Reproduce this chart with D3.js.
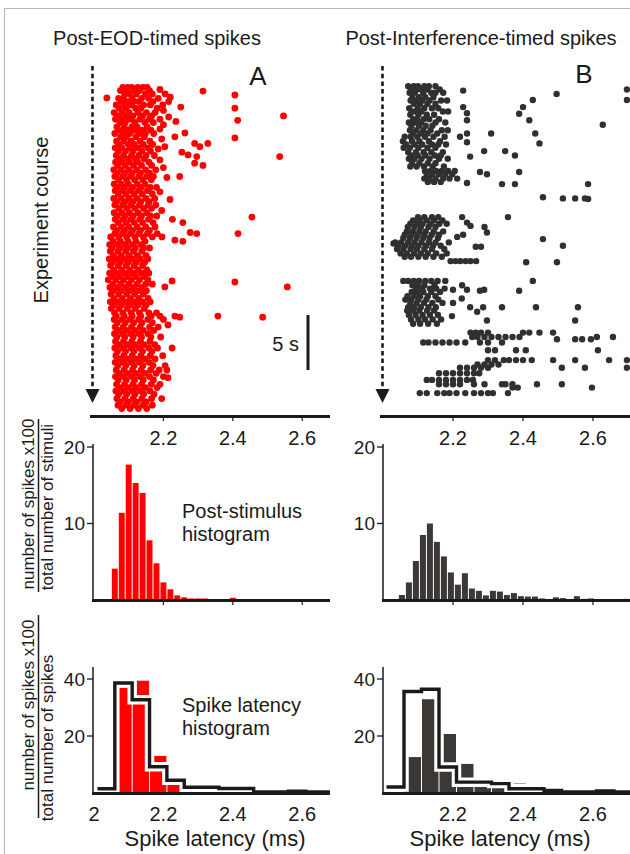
<!DOCTYPE html>
<html><head><meta charset="utf-8">
<script src="https://cdn.jsdelivr.net/npm/d3@7"></script>
<style>body{margin:0;background:#fff}svg{display:block;font-family:"Liberation Sans",Arial,Helvetica,sans-serif}</style>
</head><body><svg id="c" width="630" height="854"></svg>
<script>
// ---------------- DATA ----------------
const panelTitles = ["Post-EOD-timed spikes", "Post-Interference-timed spikes"];
const panelLetters = ["A", "B"];
const rasterTicks = [2.2, 2.4, 2.6];
const latTickLabelsA = [2, 2.2, 2.4, 2.6];
const latTickLabelsB = [2.2, 2.4, 2.6];
const psthYTicks = [10, 20];
const latYTicks = [20, 40];

// Raster rows: [experiment time (s), [spike latencies (ms)]]
const rasterA = [
[0.3,[2.083,2.097,2.109,2.126,2.141,2.153]],
[0.6,[2.076,2.094,2.117,2.131,2.160]],
[0.9,[2.088,2.102,2.122,2.148,2.168]],
[1.3,[2.071,2.085,2.110,2.137,2.157,2.185]],
[1.6,[2.079,2.098,2.114,2.129,2.170]],
[1.9,[2.064,2.089,2.106,2.143,2.162,2.198]],
[2.2,[2.073,2.092,2.120,2.135,2.182]],
[2.6,[2.058,2.081,2.101,2.127,2.151,2.176]],
[2.9,[2.069,2.095,2.112,2.140,2.166]],
[3.2,[2.062,2.084,2.104,2.132,2.159,2.190]],
[3.5,[2.075,2.090,2.118,2.147,2.171]],
[3.9,[2.066,2.087,2.109,2.124,2.153]],
[4.2,[2.071,2.096,2.115,2.139,2.164]],
[4.5,[2.060,2.082,2.103,2.130,2.148,2.172]],
[4.8,[2.077,2.093,2.121,2.145]],
[5.2,[2.065,2.086,2.107,2.133,2.161]],
[5.5,[2.072,2.099,2.116,2.142,2.169]],
[5.8,[2.061,2.080,2.104,2.127,2.155]],
[6.1,[2.070,2.091,2.112,2.138,2.163]],
[6.5,[2.064,2.085,2.108,2.129,2.150,2.174]],
[6.8,[2.073,2.097,2.119,2.144]],
[7.1,[2.062,2.081,2.102,2.126,2.158]],
[7.4,[2.068,2.090,2.114,2.137,2.166]],
[7.8,[2.057,2.078,2.100,2.123,2.149,2.178]],
[8.1,[2.066,2.088,2.110,2.134,2.160]],
[8.4,[2.060,2.083,2.105,2.129,2.152,2.171]],
[8.7,[2.071,2.094,2.117,2.141,2.165]],
[9.1,[2.058,2.079,2.099,2.125,2.147]],
[9.4,[2.066,2.087,2.111,2.136,2.162,2.180]],
[9.7,[2.061,2.082,2.104,2.128,2.154]],
[10.0,[2.070,2.092,2.115,2.139,2.168]],
[10.4,[2.057,2.078,2.101,2.124,2.150,2.175]],
[10.7,[2.065,2.089,2.112,2.135,2.159]],
[11.0,[2.060,2.083,2.106,2.131,2.156,2.178]],
[11.3,[2.072,2.095,2.118,2.143,2.166]],
[11.7,[2.058,2.080,2.102,2.127,2.152]],
[12.0,[2.067,2.090,2.113,2.137,2.163,2.181]],
[12.3,[2.061,2.084,2.107,2.132,2.157]],
[12.6,[2.070,2.093,2.116,2.140,2.170]],
[13.0,[2.056,2.079,2.100,2.124,2.149,2.176]],
[13.3,[2.065,2.088,2.111,2.134,2.160]],
[13.6,[2.060,2.082,2.105,2.129,2.154,2.182]],
[13.9,[2.048,2.071,2.094,2.118,2.142,2.168,2.196]],
[14.3,[2.055,2.076,2.098,2.121,2.147]],
[14.6,[2.045,2.067,2.089,2.112,2.136]],
[14.9,[2.052,2.074,2.097,2.119,2.143,2.160]],
[15.2,[2.047,2.069,2.091,2.114,2.138]],
[15.6,[2.056,2.078,2.101,2.125,2.150]],
[15.9,[2.044,2.066,2.088,2.110,2.133,2.155]],
[16.2,[2.053,2.075,2.098,2.122,2.146]],
[16.5,[2.048,2.070,2.093,2.116,2.140]],
[16.9,[2.057,2.080,2.103,2.127,2.152]],
[17.2,[2.045,2.067,2.090,2.113,2.137,2.158]],
[17.5,[2.052,2.074,2.097,2.120,2.145]],
[17.8,[2.041,2.063,2.085,2.108,2.131,2.155]],
[18.2,[2.054,2.077,2.100,2.124,2.149,2.168]],
[18.5,[2.046,2.068,2.091,2.114,2.139]],
[18.8,[2.055,2.078,2.102,2.126,2.151]],
[19.1,[2.049,2.071,2.094,2.117,2.142]],
[19.5,[2.058,2.081,2.105,2.129,2.156]],
[19.8,[2.047,2.069,2.092,2.116,2.140,2.162]],
[20.1,[2.056,2.079,2.103,2.127,2.150]],
[20.4,[2.050,2.072,2.096,2.119,2.145]],
[20.8,[2.059,2.083,2.107,2.131,2.158,2.180]],
[21.1,[2.064,2.087,2.110,2.135,2.165,2.190]],
[21.4,[2.058,2.081,2.104,2.129,2.155,2.200]],
[21.7,[2.067,2.090,2.114,2.138,2.168]],
[22.1,[2.061,2.084,2.108,2.133,2.160,2.185]],
[22.4,[2.070,2.093,2.117,2.142,2.172]],
[22.7,[2.059,2.082,2.106,2.130,2.156]],
[23.0,[2.066,2.089,2.113,2.137,2.164,2.192]],
[23.4,[2.062,2.085,2.109,2.134,2.161]],
[23.7,[2.071,2.095,2.119,2.144,2.175]],
[24.0,[2.060,2.083,2.107,2.131,2.158,2.183]],
[24.3,[2.068,2.091,2.115,2.140,2.167]],
[24.7,[2.063,2.086,2.110,2.135,2.162,2.198]],
[25.0,[2.072,2.096,2.120,2.146,2.176]],
[25.3,[2.061,2.084,2.108,2.132,2.159]],
[25.6,[2.069,2.092,2.116,2.141,2.170,2.205]],
[26.0,[2.064,2.087,2.111,2.136,2.163,2.188]],
[26.3,[2.073,2.097,2.121,2.147,2.179]],
[26.6,[2.062,2.085,2.109,2.133,2.160,2.200]],
[26.9,[2.070,2.093,2.117,2.142,2.171]],
[27.3,[2.065,2.088,2.112,2.137,2.165,2.190]],
[27.6,[2.074,2.098,2.122,2.148,2.182]],
[27.9,[2.063,2.086,2.110,2.134,2.161]],
[28.2,[2.071,2.094,2.118,2.143,2.173]],
[28.6,[2.066,2.089,2.113,2.138,2.166,2.195]],
[28.9,[2.075,2.099,2.123,2.150]],
[29.2,[2.069,2.092,2.116,2.141,2.168]],
[29.5,[2.080,2.104,2.128,2.152]]
];
// isolated spikes in A: [time (s), latency (ms)]
const rasterAScatter = [
[0.64,2.314],[1.27,2.037],[1.0,2.406],[1.2,2.22],[0.5,2.19],[0.9,2.205],[2.1,2.25],[1.6,2.215],[2.2,2.406],
[2.9,2.546],[3.3,2.414],[3.4,2.236],[2.4,2.2],[3.0,2.215],[3.7,2.2],[4.45,2.262],[4.8,2.233],[4.1,2.19],
[4.9,2.406],[5.7,2.204],[5.4,2.29],[5.7,2.305],[5.4,2.328],[6.2,2.253],[6.45,2.271],[6.6,2.296],
[6.6,2.535],[7.2,2.29],[7.4,2.314],[8.4,2.247],[8.5,2.21],[5.0,2.195],[5.9,2.185],[6.9,2.19],[7.6,2.2],
[9.8,2.19],[10.5,2.219],[11.5,2.195],[12.1,2.455],[12.3,2.226],[12.6,2.256],[13.5,2.277],[13.6,2.296],
[13.6,2.415],[14.2,2.233],[14.3,2.256],[17.9,2.225],[18.0,2.406],[18.45,2.204],[18.45,2.557],
[21.1,2.233],[21.2,2.247],[21.1,2.357],[21.2,2.486],[21.9,2.213],[24.0,2.225],[26.0,2.21],[26.7,2.213]
];

const rasterB = [
[0.2,[2.072,2.088,2.100,2.118,2.131,2.150]],
[0.5,[2.080,2.097,2.109,2.126,2.162]],
[0.8,[2.076,2.091,2.115,2.138,2.150,2.172]],
[1.2,[2.084,2.103,2.121,2.144]],
[1.5,[2.079,2.094,2.112,2.133,2.166,2.183]],
[1.8,[2.088,2.106,2.127,2.150]],
[2.2,[2.075,2.099,2.118,2.140,2.158]],
[2.5,[2.082,2.093,2.110,2.171,2.186]],
[2.8,[2.078,2.101,2.125,2.146]],
[3.2,[2.086,2.097,2.116,2.132,2.160]],
[3.5,[2.074,2.092,2.108,2.150,2.178]],
[3.8,[2.081,2.103,2.122,2.141]],
[4.2,[2.077,2.095,2.115,2.136,2.168,2.185]],
[4.5,[2.085,2.108,2.127,2.155]],
[4.8,[2.062,2.079,2.098,2.120,2.144,2.176]],
[5.2,[2.057,2.083,2.104,2.131,2.163]],
[5.5,[2.066,2.090,2.112,2.140,2.158,2.180]],
[5.8,[2.059,2.077,2.101,2.127,2.150]],
[6.2,[2.072,2.094,2.116,2.138,2.171]],
[6.5,[2.080,2.099,2.121,2.148,2.165]],
[6.8,[2.074,2.090,2.110,2.133,2.160,2.185]],
[7.2,[2.083,2.104,2.128,2.150]],
[7.5,[2.078,2.096,2.117,2.142,2.174]],
[7.9,[2.120,2.135,2.152,2.168,2.186,2.205]],
[8.2,[2.125,2.141,2.160,2.178,2.198]],
[8.6,[2.118,2.132,2.150,2.172,2.190,2.212]],
[8.9,[2.128,2.146,2.165]],
[12.1,[2.100,2.118,2.140,2.158]],
[12.4,[2.086,2.104,2.125,2.146,2.170]],
[12.7,[2.078,2.097,2.113,2.136,2.161,2.182]],
[13.0,[2.071,2.090,2.108,2.130,2.150]],
[13.4,[2.068,2.085,2.104,2.122,2.145,2.172]],
[13.7,[2.062,2.081,2.099,2.118,2.139,2.160]],
[14.0,[2.058,2.077,2.096,2.115,2.133,2.157]],
[14.4,[2.035,2.052,2.072,2.090,2.110,2.131,2.150,2.188]],
[14.7,[2.044,2.063,2.082,2.101,2.123,2.143,2.165]],
[15.0,[2.040,2.058,2.079,2.097,2.118,2.140,2.175]],
[15.4,[2.050,2.068,2.089,2.108,2.128,2.152,2.182]],
[15.7,[2.062,2.080,2.101,2.122,2.144,2.168]],
[16.1,[2.193,2.207,2.221,2.236,2.250,2.266]],
[17.9,[2.058,2.072,2.088,2.103,2.121,2.138,2.156,2.178]],
[18.3,[2.084,2.099,2.118,2.147]],
[18.6,[2.095,2.112,2.134,2.152,2.176]],
[18.9,[2.082,2.097,2.115,2.138,2.163]],
[19.3,[2.070,2.088,2.106,2.128,2.150]],
[19.6,[2.064,2.080,2.101,2.124,2.158]],
[19.9,[2.078,2.096,2.117,2.141,2.170]],
[20.3,[2.072,2.089,2.108,2.130,2.151]],
[20.6,[2.069,2.086,2.104,2.126,2.146]],
[21.0,[2.074,2.093,2.113,2.134,2.157]],
[21.4,[2.080,2.101,2.120,2.142,2.166]],
[21.8,[2.086,2.106,2.129,2.154]],
[22.6,[2.250,2.265,2.280,2.300,2.400,2.418,2.447,2.486]],
[23.0,[2.255,2.270,2.290,2.310,2.330,2.350,2.370,2.390,2.611,2.657]],
[23.2,[2.497,2.549,2.569,2.594]],
[23.5,[2.115,2.130,2.150,2.170,2.190,2.210,2.235,2.277,2.300,2.340]],
[24.2,[2.300,2.320,2.380,2.408,2.614]],
[25.1,[2.300,2.320,2.345,2.360,2.380,2.400,2.425,2.486,2.549,2.646,2.697]],
[25.5,[2.270,2.290,2.310,2.330]],
[25.8,[2.220,2.240,2.260,2.280,2.300,2.511,2.577,2.697]],
[26.3,[2.160,2.180,2.200,2.220,2.240,2.260,2.275]],
[26.9,[2.125,2.140,2.160,2.180,2.200,2.220,2.240,2.257]],
[27.3,[2.160,2.180,2.200,2.220,2.260,2.290,2.340,2.350,2.370,2.440,2.511]],
[27.6,[2.370,2.385,2.597]],
[28.1,[2.105,2.125,2.155,2.175,2.190,2.210,2.235,2.260,2.280,2.300,2.314,2.357]]
];
// isolated spikes in B: [time (s), latency (ms)]
const rasterBScatter = [
[0.6,2.229],[0.9,2.496],[0.5,2.697],[1.45,2.697],[1.45,2.428],[2.1,2.229],[2.1,2.40],[2.65,2.24],[2.7,2.389],
[3.3,2.24],[3.3,2.418],[3.7,2.628],[4.8,2.22],[4.5,2.24],[4.5,2.309],[4.5,2.435],[5.3,2.24],[5.4,2.447],
[6.1,2.289],[6.1,2.349],[6.5,2.377],[6.6,2.249],[8.0,2.277],[8.2,2.297],[8.0,2.389],[9.0,2.24],[9.1,2.34],
[9.1,2.377],[9.1,2.586],[10.3,2.457],[10.4,2.514],[10.4,2.549],[10.4,2.577],[10.45,2.586],[12.1,2.357],
[12.1,2.226],[12.6,2.24],[12.9,2.25],[13.0,2.29],[13.5,2.297],[13.9,2.212],[13.7,2.229],[14.1,2.457],
[14.8,2.265],[14.8,2.28],[14.7,2.514],[16.2,2.409],[16.2,2.497],[14.5,2.03],
[17.9,2.428],[18.3,2.226],[18.7,2.2],[18.7,2.24],[18.8,2.277],[18.7,2.289],[18.8,2.389],[19.5,2.225],
[19.9,2.2],[20.3,2.249],[20.3,2.286],[20.3,2.34],[20.3,2.437],[20.3,2.557],[20.7,2.269],[21.1,2.197],
[21.5,2.297],[21.5,2.549]
];

// Post-stimulus histograms (0.02 ms bins): first bin start, values
const psthBinWidth = 0.02;
const psthStartA = 2.05;
const psthA = [4.1,11.4,17.7,15.3,14.0,7.8,4.8,2.3,1.4,0.6,0.35,0.2,0.2,0.2,0,0,0,0.3,0.1,0,0,0,0,0,0,0.1];
const psthStartB = 2.044;
const psthB = [0.65,2.3,5.1,8.5,10.0,7.6,5.7,3.6,2.0,3.5,1.5,1.2,0.6,1.2,1.1,0.65,0.9,0.5,0.45,0.45,0.2,0,0.35,0.25,0,0.5,0.15,0.2,0,0,0.05,0.05,0.15];

// Spike latency histograms (0.05 ms bins)
const latBinWidth = 0.05;
const latBins = [2.01,2.06,2.11,2.16,2.21,2.26,2.31,2.36,2.41,2.46,2.51,2.56,2.61,2.66];
const latStepA = [1.5,38.6,32.7,9.2,4.5,2.0,2.0,1.6,1.6,0.4,0.4,0.6,0.4,0.4];
const latBarsA = [0,37,39.4,13,3.1,0.8,0,0,0,0,0,0,0,0];
const latStepB = [2.1,35.6,36.4,9.1,3.8,3.8,3.3,1.5,1.5,0.9,0.35,0.35,0.7,0.35];
const latBarsB = [0,12.6,32.9,20.7,10.2,5.0,2.5,3.3,1.5,1.5,0.5,0.3,0.3,0.3];

// ---------------- DRAWING ----------------
const svg = d3.select("#c");
const ink = "#1a1a1a";

svg.append("path").attr("d", "M4.5,854 V8.5 H630").attr("fill", "none")
  .attr("stroke", "#b8b8b8").attr("stroke-width", 1.2);

const yR = d3.scaleLinear().domain([0, 30]).range([84, 414]);
const yP = d3.scaleLinear().domain([0, 20]).range([600, 447]);
const yL = d3.scaleLinear().domain([0, 40]).range([793, 679]);

const panels = [
  { x: d3.scaleLinear().domain([2, 2.68]).range([94, 330]), L: 93, R: 330,
    raster: rasterA, scatter: rasterAScatter, dot: "#ff0000", r: 3.4, psthStart: psthStartA, psth: psthA, fill: "#ff0000",
    latStep: latStepA, latBars: latBarsA, latLabels: latTickLabelsA,
    title: panelTitles[0], titleX: 157, letter: panelLetters[0], letterX: 258, letterY: 85, xTitleX: 215 },
  { x: d3.scaleLinear().domain([2, 2.7]).range([383, 628]), L: 383, R: 630,
    raster: rasterB, scatter: rasterBScatter, dot: "#32302f", r: 3.2, psthStart: psthStartB, psth: psthB, fill: "#3b3836",
    latStep: latStepB, latBars: latBarsB, latLabels: latTickLabelsB,
    title: panelTitles[1], titleX: 481, letter: panelLetters[1], letterX: 584, letterY: 83, xTitleX: 500 }
];

panels.forEach((p, pi) => {
  const g = svg.append("g");
  const x = p.x;

  g.append("text").attr("x", p.titleX).attr("y", 45).attr("text-anchor", "middle")
    .attr("font-size", 20).attr("fill", ink).text(p.title);
  g.append("text").attr("x", p.letterX).attr("y", p.letterY).attr("text-anchor", "middle")
    .attr("font-size", 26).attr("fill", ink).text(p.letter);

  const ax = p.L - 0.5;
  g.append("line").attr("x1", ax).attr("x2", ax).attr("y1", 66).attr("y2", 391)
    .attr("stroke", ink).attr("stroke-width", 2.6).attr("stroke-dasharray", "4.5,3.2");
  g.append("path").attr("d", `M${ax - 7},${389} L${ax + 7},${389} L${ax},${403} Z`).attr("fill", ink);

  const dots = [];
  p.raster.forEach(([t, lats]) => lats.forEach(l => dots.push([l, t])));
  p.scatter.forEach(([t, l]) => dots.push([l, t]));
  g.append("g").selectAll("circle").data(dots).join("circle")
    .attr("cx", d => x(d[0])).attr("cy", d => yR(d[1])).attr("r", p.r).attr("fill", p.dot);

  g.append("line").attr("x1", p.L - 3).attr("x2", p.R).attr("y1", 416.5).attr("y2", 416.5)
    .attr("stroke", ink).attr("stroke-width", 3);
  rasterTicks.forEach(v => {
    g.append("line").attr("x1", x(v)).attr("x2", x(v)).attr("y1", 416).attr("y2", 421)
      .attr("stroke", ink).attr("stroke-width", 1.2);
    g.append("text").attr("x", x(v)).attr("y", 445).attr("text-anchor", "middle")
      .attr("font-size", 20).attr("fill", ink).text(v.toFixed(1));
  });

  g.append("g").selectAll("rect").data(p.psth.map((v, i) => [p.psthStart + i * psthBinWidth, v]).filter(d => d[1] > 0))
    .join("rect")
    .attr("x", d => x(d[0]) + 0.5).attr("width", d => x(d[0] + psthBinWidth) - x(d[0]) - 1)
    .attr("y", d => yP(d[1])).attr("height", d => yP(0) - yP(d[1])).attr("fill", p.fill);
  g.append("line").attr("x1", p.L).attr("x2", p.L).attr("y1", 444).attr("y2", 601)
    .attr("stroke", ink).attr("stroke-width", 1.5);
  psthYTicks.forEach(v => {
    g.append("line").attr("x1", p.L - 6).attr("x2", p.L).attr("y1", yP(v)).attr("y2", yP(v))
      .attr("stroke", ink).attr("stroke-width", 1.3);
    g.append("text").attr("x", p.L - 8).attr("y", yP(v)).attr("dy", "0.36em").attr("text-anchor", "end")
      .attr("font-size", 19).attr("fill", ink).text(v);
  });
  g.append("line").attr("x1", p.L - 1).attr("x2", p.R).attr("y1", 600.5).attr("y2", 600.5)
    .attr("stroke", ink).attr("stroke-width", 3);
  rasterTicks.forEach(v => {
    g.append("line").attr("x1", x(v)).attr("x2", x(v)).attr("y1", 600).attr("y2", 605)
      .attr("stroke", ink).attr("stroke-width", 1.2);
  });

  const clipId = "clip" + pi;
  svg.append("clipPath").attr("id", clipId).append("rect")
    .attr("x", p.L).attr("y", 640).attr("width", p.R - p.L).attr("height", 160);
  const lg = g.append("g").attr("clip-path", `url(#${clipId})`);
  lg.selectAll("rect").data(latBins.map((b, i) => [b, p.latBars[i]]).filter(d => d[1] > 0))
    .join("rect")
    .attr("x", d => x(d[0]) + 0.5).attr("width", d => x(d[0] + latBinWidth) - x(d[0]) - 1)
    .attr("y", d => yL(d[1])).attr("height", d => yL(0) - yL(d[1])).attr("fill", p.fill);
  const pts = latBins.map((b, i) => [b, p.latStep[i]]);
  pts.push([latBins[latBins.length - 1] + latBinWidth, p.latStep[p.latStep.length - 1]]);
  const stepLine = d3.line().x(d => x(d[0])).y(d => yL(d[1])).curve(d3.curveStepAfter);
  lg.append("path").attr("d", stepLine(pts)).attr("fill", "none").attr("stroke", "#fff")
    .attr("stroke-width", 9.5);
  lg.append("path").attr("d", stepLine(pts)).attr("fill", "none").attr("stroke", ink)
    .attr("stroke-width", 3.4);

  g.append("line").attr("x1", p.L).attr("x2", p.L).attr("y1", 667).attr("y2", 794)
    .attr("stroke", ink).attr("stroke-width", 1.5);
  latYTicks.forEach(v => {
    g.append("line").attr("x1", p.L - 6).attr("x2", p.L).attr("y1", yL(v)).attr("y2", yL(v))
      .attr("stroke", ink).attr("stroke-width", 1.3);
    g.append("text").attr("x", p.L - 8).attr("y", yL(v)).attr("dy", "0.36em").attr("text-anchor", "end")
      .attr("font-size", 19).attr("fill", ink).text(v);
  });
  g.append("line").attr("x1", p.L - 1).attr("x2", p.R).attr("y1", 793.5).attr("y2", 793.5)
    .attr("stroke", ink).attr("stroke-width", 3);
  p.latLabels.forEach(v => {
    g.append("text").attr("x", x(v)).attr("y", 821).attr("text-anchor", "middle")
      .attr("font-size", 20).attr("fill", ink).text(v === 2 ? "2" : v.toFixed(1));
  });
  g.append("text").attr("x", p.xTitleX).attr("y", 846).attr("text-anchor", "middle")
    .attr("font-size", 22).attr("fill", ink).text("Spike latency (ms)");
});

svg.append("line").attr("x1", 308).attr("x2", 308).attr("y1", yR(21)).attr("y2", yR(26))
  .attr("stroke", ink).attr("stroke-width", 3);
svg.append("text").attr("x", 299).attr("y", 351).attr("text-anchor", "end")
  .attr("font-size", 20).attr("fill", ink).text("5 s");
const ann = svg.append("g").attr("font-size", 20).attr("fill", ink);
ann.append("text").attr("x", 182).attr("y", 518).text("Post-stimulus");
ann.append("text").attr("x", 182).attr("y", 541).text("histogram");
ann.append("text").attr("x", 182).attr("y", 712).text("Spike latency");
ann.append("text").attr("x", 182).attr("y", 735).text("histogram");

svg.append("text").attr("transform", "translate(48,220) rotate(-90)").attr("text-anchor", "middle")
  .attr("font-size", 20).attr("fill", ink).text("Experiment course");

function fraction(cyTop, cyBottom, top, bottom, y1, y2) {
  const fg = svg.append("g").attr("font-size", 17).attr("fill", ink);
  fg.append("text").attr("transform", `translate(33.5,${cyTop}) rotate(-90)`).attr("text-anchor", "middle").text(top);
  fg.append("line").attr("x1", 38.5).attr("x2", 38.5).attr("y1", y1).attr("y2", y2)
    .attr("stroke", ink).attr("stroke-width", 1.5);
  fg.append("text").attr("transform", `translate(52.5,${cyBottom}) rotate(-90)`).attr("text-anchor", "middle").text(bottom);
}
fraction(504, 507, "number of spikes x100", "total number of stimuli", 419, 592);
fraction(705, 738, "number of spikes x100", "total number of spikes", 615, 818);
</script>
</body></html>
